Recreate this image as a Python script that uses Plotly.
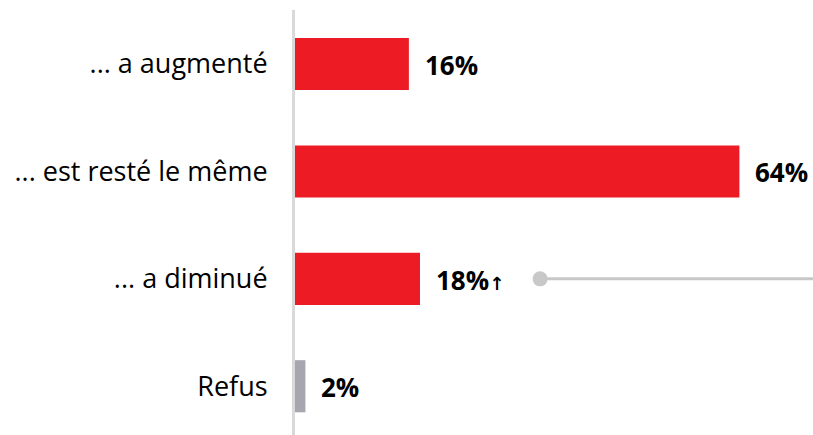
import plotly.graph_objects as go

categories = ["... a augmenté", "... est resté le même", "... a diminué", "Refus"]
values = [16.4, 64, 18, 1.5]
labels = ["16%", "64%", "18%<span style='font-family:DejaVu Sans;font-size:18px'>\u2191</span>", "2%"]
colors = ["#ED1C24", "#ED1C24", "#ED1C24", "#A7A6B0"]

fig = go.Figure()
fig.add_trace(go.Bar(
    y=categories, x=values, orientation="h",
    marker=dict(color=colors, line=dict(width=0)),
    width=0.485, cliponaxis=False,
    hoverinfo="skip",
))
for cat, val, lab in zip(categories, values, labels):
    fig.add_annotation(
        x=val, y=cat, text="<b>" + lab + "</b>", showarrow=False,
        xanchor="left", yanchor="middle", xshift=14, yshift=-1,
        font=dict(family="Open Sans", size=26, color="#000000"),
    )
# connector marker on third row
fig.add_trace(go.Scatter(
    x=[35.3, 74.6], y=[categories[2], categories[2]],
    mode="lines", line=dict(color="#C8C8C8", width=3),
    hoverinfo="skip", cliponaxis=False,
))
fig.add_trace(go.Scatter(
    x=[35.3], y=[categories[2]], mode="markers",
    marker=dict(color="#C8C8C8", size=15),
    hoverinfo="skip", cliponaxis=False,
))

fig.update_layout(
    width=813, height=435,
    margin=dict(l=295, r=0, t=10, b=0),
    plot_bgcolor="white", paper_bgcolor="white",
    showlegend=False,
    font=dict(family="Open Sans", size=20, color="#000000"),
)
fig.update_xaxes(range=[0, 74.6], visible=False, automargin=False)
fig.update_yaxes(
    range=[3.454, -0.503], showgrid=False, zeroline=False, automargin=False,
    showline=True, linecolor="#D9D9D9", linewidth=3,
    ticks="", ticklabelstandoff=19,
    tickfont=dict(family="Open Sans", size=27, color="#000000"),
)
fig.write_html(
    "out.html",
    config={"displayModeBar": False},
    post_script="document.body.style.margin='0';document.body.style.overflow='hidden';",
)
